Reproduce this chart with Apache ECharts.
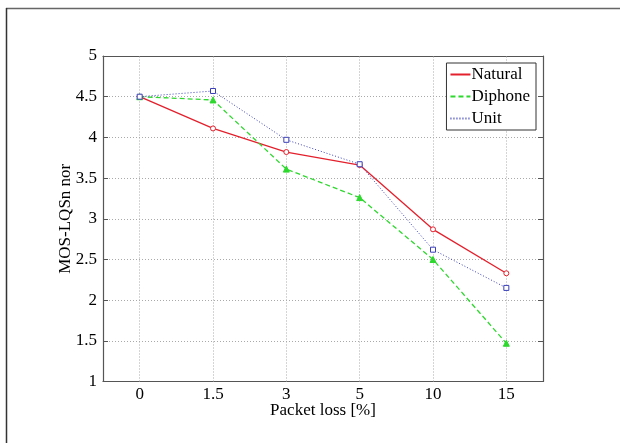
<!DOCTYPE html>
<html lang="en">
  <head>
    <meta charset="UTF-8" />
    <title>MOS-LQSn vs packet loss</title>
    <script src="https://cdn.jsdelivr.net/npm/echarts@6/dist/echarts.min.js"></script>
    <style>
      body { margin: 0; background: #fff; }
    </style>
  </head>
  <body>
    <div id="main" style="width: 620px; height: 443px"></div>
    <script type="text/javascript">
      // data
      const categories = ["0", "1.5", "3", "5", "10", "15"];
      const natural = [4.5, 4.11, 3.82, 3.66, 2.87, 2.33];
      const diphone = [4.5, 4.46, 3.61, 3.26, 2.5, 1.47];
      const unit = [4.5, 4.57, 3.97, 3.67, 2.62, 2.15];

      const font = "Liberation Serif";
      const axisColor = "#555";
      const gridStyle = { color: "#aaa", type: [1, 2], width: 1 };

      let myChart = echarts.init(document.getElementById("main"));

      // vertical grid lines go through the categories (matlab style)
      const vGrid = categories.map((c) => ({ xAxis: c }));

      let options = {
        animation: false,
        textStyle: { fontFamily: font },
        grid: { left: 103, right: 77, top: 56, bottom: 61.5 },
        graphic: [
          { type: "line", shape: { x1: 6, y1: 8.5, x2: 620, y2: 8.5 }, style: { stroke: "#666", lineWidth: 1.5 } },
          { type: "line", shape: { x1: 6.5, y1: 8, x2: 6.5, y2: 443 }, style: { stroke: "#333", lineWidth: 1.5 } },
        ],
        legend: {
          right: 84,
          top: 63,
          orient: "vertical",
          backgroundColor: "#fff",
          borderColor: "#333",
          borderWidth: 1,
          padding: [3, 6, 3, 3],
          itemGap: 5,
          itemWidth: 20,
          itemHeight: 16,
          itemStyle: { opacity: 0 },
          textStyle: { fontFamily: font, fontSize: 17, color: "#000", padding: [0, 0, 0, -4] },
          data: ["Natural", "Diphone", "Unit"],
        },
        xAxis: [
          {
            type: "category",
            data: categories,
            boundaryGap: true,
            name: "Packet loss [%]",
            nameLocation: "middle",
            nameGap: 21,
            nameMoveOverlap: false,
            nameTextStyle: { fontFamily: font, fontSize: 17, color: "#000" },
            axisLine: { lineStyle: { color: axisColor, width: 1.2 } },
            axisTick: { inside: true, alignWithLabel: true, length: 5, lineStyle: { color: axisColor } },
            axisLabel: { fontFamily: font, fontSize: 17, color: "#000", margin: 5 },
            splitLine: { show: false },
          },
          {
            type: "category",
            data: categories,
            boundaryGap: true,
            position: "top",
            axisLine: { lineStyle: { color: axisColor, width: 1.2 } },
            axisTick: { inside: true, alignWithLabel: true, length: 5, lineStyle: { color: axisColor } },
            axisLabel: { show: false },
            splitLine: { show: false },
          },
        ],
        yAxis: [
          {
            type: "value",
            min: 1,
            max: 5,
            interval: 0.5,
            name: "MOS-LQSn nor",
            nameLocation: "middle",
            nameGap: 29,
            nameMoveOverlap: false,
            nameTextStyle: { fontFamily: font, fontSize: 17, color: "#000" },
            axisLine: { show: true, lineStyle: { color: axisColor, width: 1.2 } },
            axisTick: { show: true, inside: true, length: 5, lineStyle: { color: axisColor } },
            axisLabel: { fontFamily: font, fontSize: 17, color: "#000", margin: 6 },
            splitLine: { show: true, lineStyle: gridStyle },
          },
          {
            type: "value",
            min: 1,
            max: 5,
            interval: 0.5,
            position: "right",
            axisLine: { show: true, lineStyle: { color: axisColor, width: 1.2 } },
            axisTick: { show: true, inside: true, length: 5, lineStyle: { color: axisColor } },
            axisLabel: { show: false },
            splitLine: { show: false },
          },
        ],
        series: [
          {
            name: "Natural",
            type: "line",
            data: natural,
            z: 3,
            symbol: "circle",
            symbolSize: 5,
            color: "#e3202c",
            lineStyle: { color: "#e3202c", width: 1.3, type: "solid" },
            itemStyle: { color: "#fff", borderColor: "#e3202c", borderWidth: 1 },
            markLine: {
              silent: true,
              symbol: "none",
              label: { show: false },
              lineStyle: gridStyle,
              z: 1,
              data: vGrid,
            },
          },
          {
            name: "Diphone",
            type: "line",
            data: diphone,
            z: 3,
            symbol: "triangle",
            symbolSize: 6,
            color: "#2ed82e",
            lineStyle: { color: "#2ed82e", width: 1.3, type: [5, 3] },
            itemStyle: { color: "#2ed82e", borderColor: "#2ed82e", borderWidth: 1 },
          },
          {
            name: "Unit",
            type: "line",
            data: unit,
            z: 3,
            symbol: "rect",
            symbolSize: 5,
            color: "#3a3fb8",
            lineStyle: { color: "#3a3fb8", width: 1, type: [1, 2] },
            itemStyle: { color: "#fff", borderColor: "#3a3fb8", borderWidth: 1 },
          },
        ],
      };

      myChart.setOption(options);
    </script>
  </body>
</html>
